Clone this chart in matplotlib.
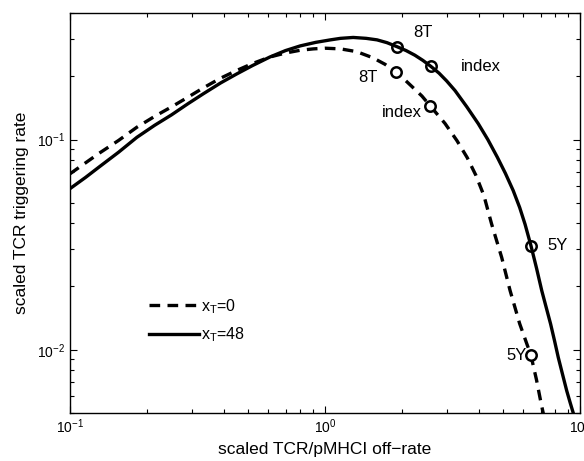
import numpy as np
import matplotlib
matplotlib.use("Agg")
import matplotlib.pyplot as plt
from matplotlib.ticker import LogLocator, NullFormatter

plt.rcParams['font.family'] = ['Liberation Sans', 'DejaVu Sans']
plt.rcParams['mathtext.fontset'] = 'custom'
plt.rcParams['mathtext.rm'] = 'Liberation Sans'
plt.rcParams['mathtext.it'] = 'Liberation Sans:italic'

# curve x_T = 0 (dashed)
off_rate_0 = [0.1, 0.13, 0.155, 0.183, 0.215, 0.25, 0.29, 0.333, 0.39, 0.45, 0.52, 0.608,
              0.7, 0.8, 0.9, 1.0, 1.15, 1.33, 1.54, 1.72, 1.9, 2.05, 2.2, 2.4, 2.58,
              2.955, 3.29, 3.61, 3.91, 4.2, 4.5, 4.93, 5.32, 5.8, 6.42, 6.75, 7.05, 7.2]
trig_0 = [0.0687, 0.086, 0.099, 0.1145, 0.129, 0.143, 0.159, 0.176, 0.196, 0.213, 0.23, 0.247,
          0.258, 0.266, 0.27, 0.272, 0.27, 0.262, 0.245, 0.228, 0.209, 0.193, 0.178, 0.161, 0.145,
          0.1193, 0.0989, 0.0821, 0.0674, 0.0541, 0.0397, 0.0275, 0.0191, 0.0133, 0.0094, 0.0072, 0.0055, 0.0049]

# curve x_T = 48 (solid)
off_rate_48 = [0.1, 0.115, 0.13, 0.155, 0.183, 0.215, 0.25, 0.29, 0.333, 0.39, 0.45, 0.52,
               0.608, 0.7, 0.8, 0.92, 1.05, 1.15, 1.29, 1.45, 1.6, 1.75, 1.91, 2.08, 2.25,
               2.42, 2.6, 2.8, 3.0, 3.235, 3.6, 3.99, 4.35, 4.74, 5.1, 5.47, 5.8, 6.09, 6.42,
               6.75, 7.08, 7.38, 7.67, 7.95, 8.22, 8.55, 8.87, 9.15, 9.41]
trig_48 = [0.0584, 0.066, 0.074, 0.087, 0.1025, 0.117, 0.131, 0.148, 0.165, 0.186, 0.205, 0.225,
           0.247, 0.265, 0.279, 0.29, 0.298, 0.303, 0.306, 0.303, 0.298, 0.289, 0.277, 0.265, 0.252,
           0.238, 0.223, 0.207, 0.19, 0.171, 0.143, 0.119, 0.1, 0.0824, 0.069, 0.0572, 0.0475, 0.0395, 0.0313,
           0.0245, 0.0191, 0.0158, 0.01325, 0.011, 0.00918, 0.0076, 0.00638, 0.0056, 0.005]

# marked ligands
mark_names = ['8T', 'index', '5Y']
mark_x_0 = [1.9, 2.58, 6.42]
mark_y_0 = [0.209, 0.145, 0.0094]
mark_x_48 = [1.91, 2.6, 6.42]
mark_y_48 = [0.277, 0.223, 0.0313]

fig = plt.figure(figsize=(5.84, 4.61), dpi=100)
ax = fig.add_axes([70 / 584, 48 / 461, 510 / 584, 400 / 461])

ax.plot(off_rate_0, trig_0, color='black', linewidth=2.4, linestyle=(0, (3.2, 2.2)),
        dash_capstyle='butt', label=r'x$_\mathrm{T}$=0')
ax.plot(off_rate_48, trig_48, color='black', linewidth=2.4, label=r'x$_\mathrm{T}$=48')

ax.plot(mark_x_0, mark_y_0, 'o', mfc='white', mec='black', mew=1.8, ms=7.5, linestyle='none')
ax.plot(mark_x_48, mark_y_48, 'o', mfc='none', mec='black', mew=1.8, ms=7.5, linestyle='none')

ax.set_xscale('log')
ax.set_yscale('log')
ax.set_xlim(0.1, 10)
ax.set_ylim(0.005, 0.4)

# labels next to the markers
fs = 12
ax.text(2.21, 0.323, mark_names[0], fontsize=fs, ha='left', va='center')
ax.text(3.41, 0.223, mark_names[1], fontsize=fs, ha='left', va='center')
ax.text(7.43, 0.0313, mark_names[2], fontsize=fs, ha='left', va='center')
ax.text(1.61, 0.197, mark_names[0], fontsize=fs, ha='right', va='center')
ax.text(2.40, 0.134, mark_names[1], fontsize=fs, ha='right', va='center')
ax.text(6.2, 0.0094, mark_names[2], fontsize=fs, ha='right', va='center')

ax.set_xlabel('scaled TCR/pMHCI off\u2212rate', fontsize=12.5, labelpad=4)
ax.set_ylabel('scaled TCR triggering rate', fontsize=12.5, labelpad=6)

ax.tick_params(which='both', direction='in', top=True, right=True, labelsize=10)
ax.tick_params(which='major', length=5, width=0.8)
ax.tick_params(which='minor', length=3, width=0.8)
ax.xaxis.set_minor_locator(LogLocator(base=10, subs=np.arange(2, 10)))
ax.yaxis.set_minor_locator(LogLocator(base=10, subs=np.arange(2, 10)))
ax.xaxis.set_minor_formatter(NullFormatter())
ax.yaxis.set_minor_formatter(NullFormatter())
for s in ax.spines.values():
    s.set_linewidth(1.0)

leg = ax.legend(loc='upper left', bbox_to_anchor=(0.155, 0.29), frameon=False,
                handlelength=3.1, handletextpad=0.15, labelspacing=0.62,
                borderpad=0, borderaxespad=0, fontsize=11.5)

fig.savefig('out.png', dpi=100)
